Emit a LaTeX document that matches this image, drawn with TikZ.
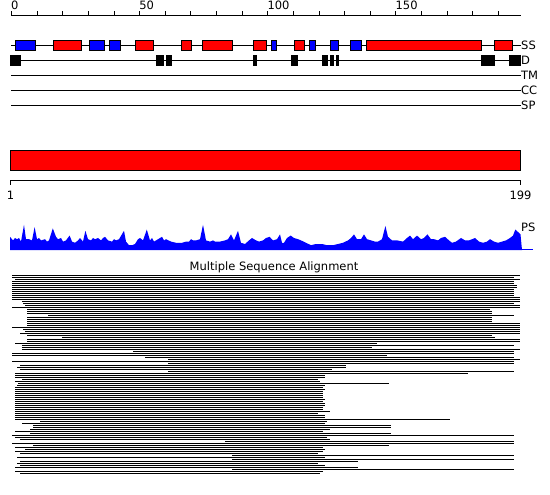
\documentclass[tikz,border=0pt]{standalone}
\usepackage{fontspec}
\setmainfont{DejaVu Sans}
\usepackage{tikz}
\definecolor{ssred}{RGB}{255,0,0}
\definecolor{ssblue}{RGB}{0,0,255}

\begin{document}
\begin{tikzpicture}[x=1pt, y=-1pt,
  every node/.style={font=\fontsize{11.5}{13}\selectfont, inner sep=0pt},
  trackline/.style={line width=1pt},
  tracklabel/.style={anchor=west},
  ticklabel/.style={anchor=base west},
  ssbox/.style={draw=black, line width=1pt},
  msarow/.style={fill=black}
]
  \useasboundingbox (0,0) rectangle (550,495);
  \def\res{2.563}

  % residue ruler
  \draw[trackline] (11,15.5) -- (521,15.5);
  \foreach \r in {0,10,...,190}
    \draw[line width=1pt] ({11.5+\res*\r},15.5) -- ({11.5+\res*\r},11);
  \foreach \r in {0,50,100,150}
    \node[ticklabel] (tick\r) at ({11+\res*\r},10) {\r};

  % feature tracks
  \foreach \y/\name in {45.5/SS,60.5/D,75.5/TM,90.5/CC,105.5/SP} {
    \draw[trackline] (11,\y) -- (521,\y);
    \node[tracklabel] (lab\name) at (521,\y) {\name};
  }

  % secondary structure
  \foreach \c/\a/\b in {ssblue/15.7/35.7, ssred/53.3/81.7, ssblue/89.3/104.7,
      ssblue/109.3/120.7, ssred/135/153.7, ssred/181.3/191.7, ssred/202.3/232.3,
      ssred/253.3/266.7, ssblue/271/276.7, ssred/294.3/304.7, ssblue/309.3/315,
      ssblue/330.3/338.7, ssblue/350.7/361.7, ssred/366.3/481.3, ssred/494/512.7}
    \filldraw[ssbox, fill=\c] (\a,40.5) rectangle (\b,50.5);

  % disorder
  \foreach \a/\b in {10.3/20.7, 156.3/163.7, 166/171.7, 253.3/256.7, 291/297.7,
      322/328.3, 330.3/333.7, 335.7/338.7, 481.3/494.7, 509.3/521}
    \fill (\a,55) rectangle (\b,66);

  % query bar and axis
  \filldraw[fill=ssred, line width=1pt] (10.5,150.5) rectangle (520.5,170.5);
  \draw[line width=1pt] (10.5,185) -- (10.5,180.5) -- (520.5,180.5) -- (520.5,185);
  \node[anchor=base] (first) at (10.5,200) {1};
  \node[anchor=base] (last) at (520.5,200) {199};

  % profile
  \begin{scope}[shift={(0,250)}, yscale=-1.2]
    \fill[ssblue] (10,0) -- plot coordinates {
      (10,11) (13,8) (15,10) (17,9) (19,10) (21,7) (24,21) (26,9) (29,9) (32,8) (34.6,19) (37,9)
      (39,10) (41,8) (45,9) (47,7) (49,8) (52.8,18) (56,11) (58,9) (61,10) (63,7) (66,8) (69.6,12) (72,7) (75,6)
      (78,8) (80,10) (83,7) (85.4,16) (88,9) (91,8) (93,10) (95,9) (98,10) (101,8) (103,10) (105,11)
      (108,8) (112,7) (114,9) (116,8) (119,9) (124,16) (126,7) (129,4) (132,4) (135,5) (138,9)
      (140,10) (143,8) (146.8,17) (150,8) (152,10) (154,7) (158,9) (162,11) (164,8) (166,9) (171,7) (176,6)
      (182,6) (186,7) (189,7) (191,9) (193,8) (196,8) (200,9) (203,21) (206,8) (210,7) (213,8) (215,7)
      (220,7) (225,8) (228,9) (231,13) (234,8) (238,16) (241,6) (245,5) (249,8) (252,10)
      (256,8) (259,7) (263,8) (266,10) (269.6,11) (273,8) (277,9) (280,13) (282,6) (284,6)
      (287,10) (290.7,12) (294,10) (298,9) (301,8) (306,6) (311,4) (316,5) (322,5) (327,4)
      (333,4) (338,5) (343,6) (348,8) (351,10) (354,13) (357,9) (361,9) (364,13) (367,9)
      (371,8) (375,7) (378,7) (382,9) (385.4,20) (388,11) (392,8) (397,8) (403,7) (407,10)
      (410,12) (413,9) (417,12) (421,9) (424,10) (427.5,13) (431,9) (434,9) (438,8) (441,10)
      (445,11) (449,8) (452,6) (456,7) (461,10) (465,8) (469,8) (472,9) (475,10) (479,7)
      (483,6) (487,7) (490,9) (494,7) (498,6) (502,7) (506,8) (510,10) (513,12) (515.3,17)
      (518,15) (520.5,13) (522,0)} -- cycle;
  \end{scope}
  \draw[ssblue, line width=1pt] (10,249.5) -- (533,249.5);
  \node[anchor=base west] (labPS) at (521,231) {PS};

  % alignment
  \node[anchor=base] (msa) at (274,270) {Multiple Sequence Alignment};
  \foreach \s/\e [count=\i from 0] in {
      12/520, 12/514, 15/520, 12/514, 12/514, 12/517, 12/517, 12/514, 12/514, 12/514,
      12/514, 12/520, 12/520, 22/520, 23/514, 25/520, 12/520, 27/490, 27/492, 27/492,
      48/514, 27/492, 27/492, 27/492, 27/520, 27/520, 12/520, 23/520, 25/520, 20/520,
      27/492, 62/495, 27/520, 27/520, 15/377, 22/514, 22/372, 22/520, 133/514, 12/514,
      12/387, 145/514, 168/520, 12/514, 168/514, 20/346, 17/346, 20/332, 168/514, 15/468,
      15/325, 15/325, 22/318, 15/320, 18/389, 17/325, 15/323, 15/325, 15/323, 15/323,
      15/323, 15/323, 15/325, 15/323, 15/325, 15/325, 15/323, 15/323, 15/330, 15/318,
      15/325, 15/325, 15/450, 40/327, 22/325, 33/391, 33/391, 30/330, 15/323, 30/391,
      12/514, 15/327, 20/330, 225/514, 12/514, 33/389, 15/323, 25/325, 15/323, 20/318,
      232/514, 17/325, 232/514, 20/358, 17/318, 20/325, 15/358, 232/514, 15/323, 20/320}
    \fill[msarow] (\s,{275+2*\i}) rectangle (\e,{276+2*\i});
\end{tikzpicture}
\end{document}
